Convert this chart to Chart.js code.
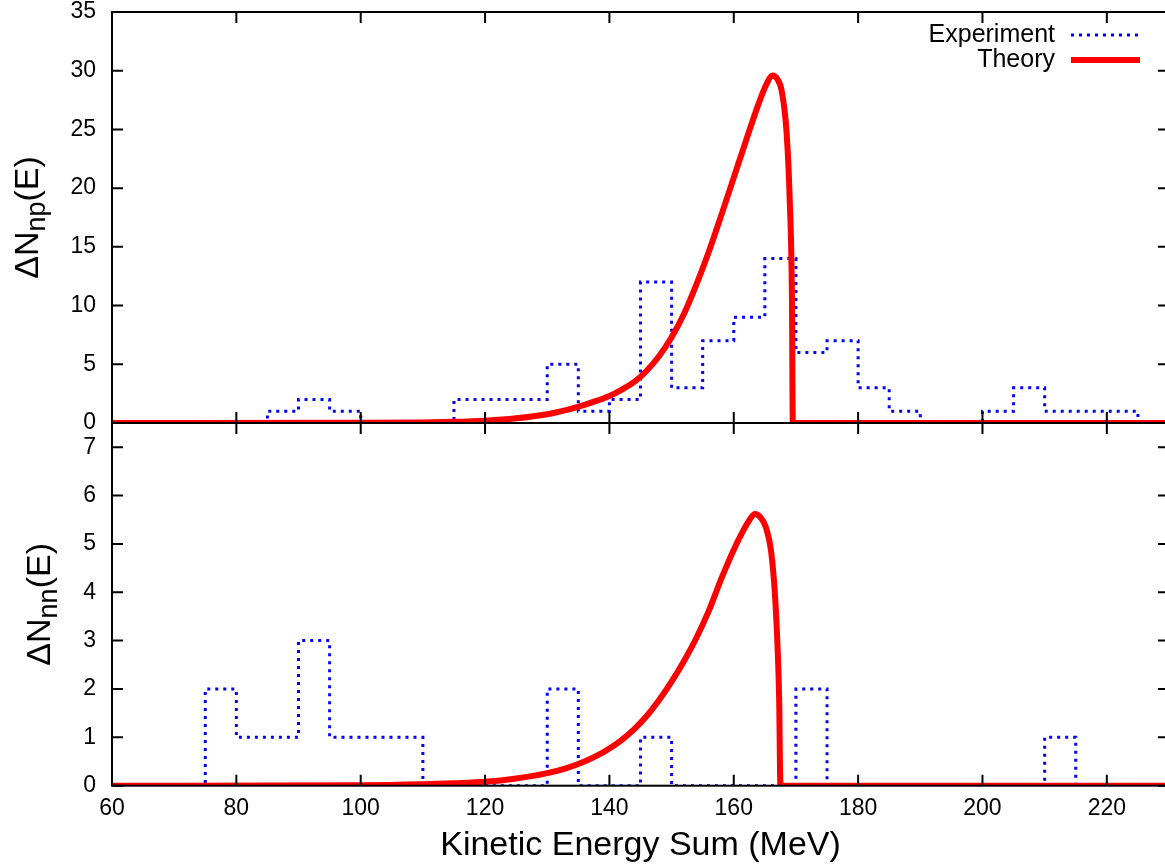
<!DOCTYPE html>
<html>
<head>
<meta charset="utf-8">
<script src="https://cdn.jsdelivr.net/npm/chart.js@4"></script>
<style>
  html, body { margin: 0; padding: 0; background: #fff; overflow: hidden; }
  #wrap { position: relative; width: 1165px; height: 867px; overflow: hidden; }
  canvas { position: absolute; left: 0; }
</style>
</head>
<body>
<div id="wrap">
  <canvas id="npChart" width="1180" height="440" style="top:0px"></canvas>
  <canvas id="nnChart" width="1180" height="467" style="top:400px"></canvas>
</div>
<script>
// histogram bin edges (MeV), last one closes the final bin
const binEdges = [60, 65, 70, 75, 80, 85, 90, 95, 100, 105, 110, 115, 120, 125, 130, 135, 140,
  145, 150, 155, 160, 165, 170, 175, 180, 185, 190, 195, 200, 205, 210, 215, 220, 225, 230];
const npCounts = [0, 0, 0, 0, 0, 1, 2, 1, 0, 0, 0, 2, 2, 2, 5, 1, 2,
  12, 3, 7, 9, 14, 6, 7, 3, 1, 0, 0, 1, 3, 1, 1, 1, 0];
const nnCounts = [0, 0, 0, 2, 1, 1, 3, 1, 1, 1, 0, 0, 0, 0, 2, 0, 0,
  1, 0, 0, 0, 0, 2, 0, 0, 0, 0, 0, 0, 0, 1, 0, 0, 0];

// theory curves
const npTheoryE = [60, 100, 110, 115, 120, 125, 130, 133, 136, 138, 140, 142, 144, 146, 148, 150, 152, 154,
  156, 158, 160, 162, 164, 165.3, 166.2, 167, 167.7, 168.5, 169, 169.35, 169.5, 230];
const npTheoryN = [0, 0.02, 0.05, 0.1, 0.2, 0.4, 0.75, 1.1, 1.55, 1.9, 2.3, 2.85, 3.5, 4.45, 5.7, 7.3, 9.3, 11.8,
  14.6, 17.7, 20.9, 24.1, 27.2, 28.9, 29.6, 29.3, 28.3, 24.7, 19.0, 11.0, 0, 0];
const nnTheoryE = [60, 100, 110, 115, 120, 125, 130, 133, 136, 138, 140, 142, 144, 146, 148, 150, 152, 154,
  156, 158, 160, 161.5, 162.5, 163.4, 164.3, 165.2, 166, 166.6, 167, 167.3, 167.5, 230];
const nnTheoryN = [0, 0.01, 0.03, 0.05, 0.08, 0.15, 0.26, 0.36, 0.5, 0.62, 0.77, 0.95, 1.17, 1.44, 1.77, 2.15, 2.58, 3.06,
  3.62, 4.28, 4.88, 5.27, 5.49, 5.62, 5.55, 5.33, 4.85, 4.0, 3.0, 1.8, 0, 0];

const xTicks = [60, 80, 100, 120, 140, 160, 180, 200, 220];
const npTicks = [0, 5, 10, 15, 20, 25, 30, 35];
const nnTicks = [0, 1, 2, 3, 4, 5, 6, 7];

const FONT = '"Liberation Sans", Arial, sans-serif';
Chart.defaults.font.family = FONT;
Chart.defaults.color = '#000';

function histo(counts) {
  return binEdges.map((e, i) => ({ x: e, y: i < counts.length ? counts[i] : counts[counts.length - 1] }));
}
function curve(es, ns) {
  return es.map((e, i) => ({ x: e, y: ns[i] }));
}

// box with inward ticks on all four sides, drawn over the data
const framePlugin = {
  id: 'frame',
  afterDatasetsDraw(chart) {
    const { ctx, chartArea: a, scales } = chart;
    ctx.save();
    ctx.strokeStyle = '#000';
    ctx.lineWidth = 2;
    ctx.beginPath();
    scales.x.ticks.forEach(t => {
      const px = scales.x.getPixelForValue(t.value);
      ctx.moveTo(px, a.bottom); ctx.lineTo(px, a.bottom - 11);
      ctx.moveTo(px, a.top); ctx.lineTo(px, a.top + 11);
    });
    scales.y.ticks.forEach(t => {
      const py = scales.y.getPixelForValue(t.value);
      ctx.moveTo(a.left, py); ctx.lineTo(a.left + 11, py);
      ctx.moveTo(a.right, py); ctx.lineTo(a.right - 11, py);
    });
    ctx.stroke();
    ctx.strokeRect(a.left, a.top, a.right - a.left, a.bottom - a.top);
    ctx.restore();
  }
};

// rotated y title with a subscript
const yTitlePlugin = {
  id: 'ytitle',
  afterDraw(chart, args, o) {
    const ctx = chart.ctx;
    const a = chart.chartArea;
    ctx.save();
    ctx.translate(o.x, (a.top + a.bottom) / 2);
    ctx.rotate(-Math.PI / 2);
    const big = '34px ' + FONT, small = '27px ' + FONT;
    ctx.font = big;
    const w1 = ctx.measureText(o.main).width;
    const w3 = ctx.measureText(o.tail).width;
    ctx.font = small;
    const w2 = ctx.measureText(o.sub).width;
    let x = -(w1 + w2 + w3) / 2;
    ctx.fillStyle = '#000';
    ctx.textAlign = 'left';
    ctx.textBaseline = 'alphabetic';
    ctx.font = big; ctx.fillText(o.main, x, 12); x += w1;
    ctx.font = small; ctx.fillText(o.sub, x, 19); x += w2;
    ctx.font = big; ctx.fillText(o.tail, x, 12);
    ctx.restore();
  }
};

// gnuplot style key: text on the left, line sample on the right
const keyPlugin = {
  id: 'key',
  afterDraw(chart, args, o) {
    if (!o.show) return;
    const ctx = chart.ctx;
    ctx.save();
    ctx.font = '25px ' + FONT;
    ctx.textAlign = 'right';
    ctx.textBaseline = 'middle';
    ctx.fillStyle = '#000';
    chart.data.datasets.forEach((ds, i) => {
      const y = o.y + i * 25;
      ctx.fillText(ds.label, o.x, y);
      ctx.strokeStyle = ds.borderColor;
      ctx.lineWidth = ds.borderWidth;
      ctx.setLineDash(ds.borderDash || []);
      ctx.beginPath();
      ctx.moveTo(o.x + 16, y);
      ctx.lineTo(o.x + 85, y);
      ctx.stroke();
    });
    ctx.restore();
  }
};

function makeDatasets(counts, es, ns) {
  return [
    {
      label: 'Experiment',
      data: histo(counts),
      stepped: 'before',
      borderColor: '#0000ff',
      borderWidth: 3,
      borderDash: [3, 5],
      pointRadius: 0,
      fill: false,
      order: 1
    },
    {
      label: 'Theory',
      data: curve(es, ns),
      cubicInterpolationMode: 'monotone',
      borderColor: '#ff0000',
      borderWidth: 6,
      borderJoinStyle: 'round',
      pointRadius: 0,
      fill: false,
      order: 0
    }
  ];
}

function makeChart(id, counts, es, ns, yMax, yTicks, opts) {
  return new Chart(document.getElementById(id), {
    type: 'line',
    data: { datasets: makeDatasets(counts, es, ns) },
    plugins: [framePlugin, yTitlePlugin, keyPlugin],
    options: {
      responsive: false,
      animation: false,
      layout: { padding: { left: 0, right: 11, top: opts.padTop, bottom: 0 } },
      plugins: {
        legend: { display: false },
        tooltip: { enabled: false },
        ytitle: { main: 'ΔN', sub: opts.sub, tail: '(E)', x: opts.titleX },
        key: { show: opts.key, x: 1055, y: 35 }
      },
      scales: {
        x: {
          type: 'linear',
          min: 60,
          max: 230,
          afterBuildTicks: s => { s.ticks = xTicks.map(v => ({ value: v })); },
          afterFit: s => { s.height = opts.xHeight; s.paddingLeft = 0; s.paddingRight = 0; },
          grid: { display: false, drawTicks: false },
          border: { display: false },
          ticks: { display: opts.xLabels, font: { size: 23 }, padding: 9, maxRotation: 0 },
          title: {
            display: opts.xLabels,
            text: 'Kinetic Energy Sum (MeV)',
            font: { size: 34 },
            padding: { top: 0, bottom: 1 }
          }
        },
        y: {
          type: 'linear',
          min: 0,
          max: yMax,
          afterBuildTicks: s => { s.ticks = yTicks.map(v => ({ value: v })); },
          afterFit: s => { s.width = 112; s.paddingTop = 0; s.paddingBottom = 0; },
          grid: { display: false, drawTicks: false },
          border: { display: false },
          ticks: { font: { size: 23 }, padding: 16 }
        }
      }
    }
  });
}

makeChart('npChart', npCounts, npTheoryE, npTheoryN, 35, npTicks,
  { padTop: 12, xHeight: 17, xLabels: false, sub: 'np', titleX: 26, key: true });
makeChart('nnChart', nnCounts, nnTheoryE, nnTheoryN, 7.5, nnTicks,
  { padTop: 23, xHeight: 81.3, xLabels: true, sub: 'nn', titleX: 38, key: false });
</script>
</body>
</html>
